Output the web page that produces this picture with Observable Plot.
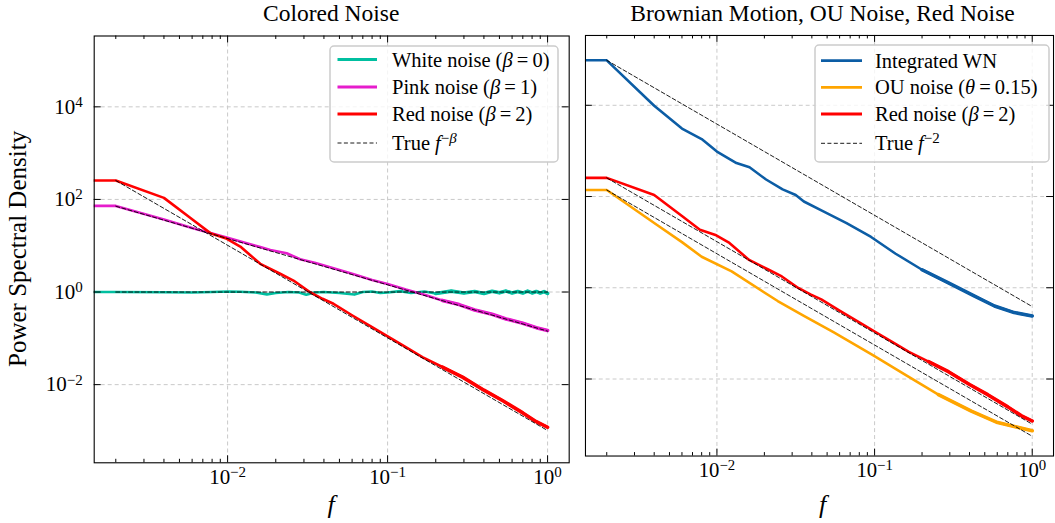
<!DOCTYPE html>
<html><head><meta charset="utf-8">
<script src="https://cdn.jsdelivr.net/npm/d3@7"></script>
<script src="https://cdn.jsdelivr.net/npm/@observablehq/plot@0.6"></script>
<style>
html,body{margin:0;padding:0;background:#fff;}
#fig{position:relative;width:1055px;height:523px;overflow:hidden;background:#fff;font-family:"Liberation Serif","Times New Roman",serif;color:#000;}
#fig > div.panel{position:absolute;top:0;}
#overlay{position:absolute;left:0;top:0;}
</style></head><body>
<div id="fig"></div>
<script>
// ---------------- data ----------------
const panelTitles = ["Colored Noise", "Brownian Motion, OU Noise, Red Noise"];
const yAxisLabel = "Power Spectral Density";
const xAxisLabel = "f";
const xMajorTicks = [0.01, 0.1, 1];
const xMinorTicks = [0.002,0.003,0.004,0.005,0.006,0.007,0.008,0.009,
                     0.02,0.03,0.04,0.05,0.06,0.07,0.08,0.09,
                     0.2,0.3,0.4,0.5,0.6,0.7,0.8,0.9];
const yMajorTicks = [0.01, 1, 100, 10000];

// first entry of each series = f = 0 bin (clipped at the left edge, as in the log plot)
const whiteF   = [0.001,0.002,0.004,0.006,0.008,0.010,0.012,0.015,0.0176,0.020,0.024,0.028,0.031,0.035,0.040,0.050,0.062,0.070,0.080,0.090,0.100,0.120,0.140,0.170,0.200,0.250,0.300,0.350,0.400,0.450,0.500,0.550,0.600,0.650,0.700,0.750,0.800,0.850,0.900,0.950,1.000];
const whitePSD = [1.0,1.0,0.989,0.977,1.0,1.023,1.012,0.977,0.891,0.955,1.0,0.977,0.871,0.977,1.0,0.955,0.881,1.0,1.023,0.955,0.977,1.047,0.955,1.023,0.933,1.047,0.955,1.023,0.933,1.04,0.96,1.047,0.955,1.03,0.95,1.047,0.955,1.03,0.95,1.02,0.933];

const pinkF    = [0.001,0.002,0.004,0.006,0.008,0.010,0.013,0.016,0.0185,0.0234,0.0284,0.035,0.0459,0.060,0.080,0.100,0.130,0.170,0.220,0.280,0.350,0.450,0.550,0.700,0.850,1.000];
const pinkPSD  = [72.5,72.5,37.0,24.3,18.4,14.9,11.5,9.35,8.1,6.9,5.1,4.27,3.27,2.49,1.81,1.49,1.13,0.875,0.66,0.535,0.41,0.33,0.262,0.212,0.17,0.148];

const redF     = [0.001,0.002,0.004,0.006,0.0078,0.0099,0.012,0.016,0.0213,0.0258,0.0328,0.0392,0.0459,0.0603,0.080,0.102,0.130,0.165,0.220,0.294,0.400,0.522,0.700,0.850,1.000];
const redPSD   = [256,256,108,37.3,18.7,14.1,9.6,4.07,2.48,1.77,0.99,0.714,0.557,0.311,0.174,0.106,0.0646,0.0392,0.024,0.0145,0.00759,0.00454,0.00245,0.00158,0.0012];

const bmF      = [0.001,0.002,0.004,0.006,0.008,0.010,0.0133,0.0161,0.0205,0.0261,0.0316,0.0356,0.0463,0.0664,0.095,0.136,0.200,0.294,0.431,0.576,0.768,1.000];
const bmPSD    = [96800,96800,9770,3090,1820,968,541,437,236,143,108,77.8,49.0,26.1,13.0,5.57,2.48,1.28,0.656,0.399,0.286,0.24];

const ouF      = [0.001,0.002,0.004,0.006,0.008,0.0124,0.0243,0.0356,0.0548,0.0975,0.157,0.254,0.411,0.603,1.000];
const ouPSD    = [139,139,26.3,10.0,4.79,2.28,0.512,0.243,0.106,0.0333,0.0123,0.00455,0.00198,0.00111,0.000733];

// reference power laws (end points)
const trueF        = [0.002, 1];
const trueWhite    = [1, 1];
const truePink     = [71.4, 0.143];
const trueRed      = [256, 0.00102];
const trueBM       = [96800, 0.387];
const trueOU       = [139, 0.000556];

const colors = {white:"#00bfa0", pink:"#e61ccc", red:"#ff0000", bm:"#0c5da5", ou:"#ffa500"};

// ---------------- layout ----------------
const H = 523, MT = 35.5, MB = 60.7, FW = 475, FH = H - MT - MB;
const xDomain = [0.001466, 1.3646], yDomain = [2.05e-4, 3.39e5];
const LW = 2.6, FUZZ_F = 0.2, FUZZ_W = 3.6, DASH = "4,2.4";
const rows = (f, v) => f.map((x, i) => ({f: x, v: v[i]}));
const fmt = d => "10^" + Math.round(Math.log10(d));

function panel({ML, series, trues, yLabels}) {
  const tk = {stroke: "#000", strokeWidth: 1};
  const marks = [
    Plot.ruleX(xMajorTicks, {x: d => d, stroke: "#c9c9c9", strokeWidth: 1, strokeDasharray: "4,3"}),
    Plot.ruleY(yMajorTicks, {y: d => d, stroke: "#c9c9c9", strokeWidth: 1, strokeDasharray: "4,3"}),
    ...series.flatMap(s => [
      Plot.line(rows(s.f, s.v), {x: "f", y: "v", stroke: s.color, strokeWidth: LW, clip: true}),
      // denser (noisier) high-frequency part of the periodogram drawn a little heavier
      Plot.line(rows(s.f, s.v).filter(d => d.f >= FUZZ_F), {x: "f", y: "v", stroke: s.color, strokeWidth: FUZZ_W, clip: true})
    ]),
    ...trues.map(t => Plot.line(rows(trueF, t), {x: "f", y: "v", stroke: "#000", strokeWidth: 0.9, strokeDasharray: DASH, clip: true})),
    Plot.frame({stroke: "#000", strokeWidth: 1.1}),
    Plot.tickX(xMajorTicks, {x: d => d, insetTop: FH - 7, ...tk}),
    Plot.tickX(xMajorTicks, {x: d => d, insetBottom: FH - 7, ...tk}),
    Plot.tickX(xMinorTicks, {x: d => d, insetTop: FH - 3.5, ...tk}),
    Plot.tickX(xMinorTicks, {x: d => d, insetBottom: FH - 3.5, ...tk}),
    Plot.tickY(yMajorTicks, {y: d => d, insetRight: FW - 7, ...tk}),
    Plot.tickY(yMajorTicks, {y: d => d, insetLeft: FW - 7, ...tk}),
    Plot.axisX(xMajorTicks, {tickSize: 0, tickPadding: 6, tickFormat: fmt, label: null, fontSize: 21})
  ];
  if (yLabels) marks.push(Plot.axisY(yMajorTicks, {tickSize: 0, tickPadding: 11.5, tickFormat: fmt, label: null, fontSize: 21}));
  return Plot.plot({
    width: ML + FW + 2, height: H,
    marginLeft: ML, marginRight: 2, marginTop: MT, marginBottom: MB,
    x: {type: "log", domain: xDomain},
    y: {type: "log", domain: yDomain, axis: yLabels ? undefined : null},
    style: {fontFamily: '"Liberation Serif", serif', color: "#000", background: "transparent", overflow: "visible"},
    marks
  });
}

const fig = document.getElementById("fig");
const L0 = 93.7, R0 = 585;
const left = panel({ML: L0, yLabels: true,
  series: [{f: whiteF, v: whitePSD, color: colors.white}, {f: pinkF, v: pinkPSD, color: colors.pink}, {f: redF, v: redPSD, color: colors.red}],
  trues: [trueWhite, truePink, trueRed]});
const right = panel({ML: 2, yLabels: false,
  series: [{f: bmF, v: bmPSD, color: colors.bm}, {f: ouF, v: ouPSD, color: colors.ou}, {f: redF, v: redPSD, color: colors.red}],
  trues: [trueBM, trueRed, trueOU]});
const d1 = document.createElement("div"); d1.className = "panel"; d1.style.left = "0px"; d1.appendChild(left);
const d2 = document.createElement("div"); d2.className = "panel"; d2.style.left = (R0 - 2) + "px"; d2.appendChild(right);
fig.appendChild(d1); fig.appendChild(d2);

// superscript tick labels 10^n
const NS = "http://www.w3.org/2000/svg";
fig.querySelectorAll('g[aria-label$="tick label"] text').forEach(t => {
  const m = /^10\^(-?\d+)$/.exec(t.textContent);
  if (!m) return;
  t.textContent = "";
  const a = document.createElementNS(NS, "tspan"); a.textContent = "10"; t.appendChild(a);
  const b = document.createElementNS(NS, "tspan"); b.textContent = m[1].replace("-", "\u2212");
  b.setAttribute("dy", "-0.45em"); b.setAttribute("font-size", "15"); t.appendChild(b);
});

// ---------------- overlay: titles, axis labels, legends ----------------
const ov = d3.select(fig).append("svg").attr("id", "overlay").attr("width", 1055).attr("height", 523)
  .style("font-family", '"Liberation Serif", serif');
ov.append("text").attr("x", L0 + FW / 2).attr("y", 20.5).attr("text-anchor", "middle").attr("font-size", 23.5).text(panelTitles[0]);
ov.append("text").attr("x", R0 + FW / 2).attr("y", 20.5).attr("text-anchor", "middle").attr("font-size", 23.5).text(panelTitles[1]);
ov.append("text").attr("transform", `translate(26,${MT + FH / 2}) rotate(-90)`).attr("text-anchor", "middle").attr("font-size", 25).text(yAxisLabel);
ov.append("text").attr("x", L0 + FW / 2).attr("y", 513).attr("text-anchor", "middle").attr("font-size", 26).attr("font-style", "italic").text(xAxisLabel);
ov.append("text").attr("x", R0 + FW / 2).attr("y", 513).attr("text-anchor", "middle").attr("font-size", 26).attr("font-style", "italic").text(xAxisLabel);

// legend entries: parts = [text, italic?, superscript?]
const legendLeft = [
  {color: colors.white, parts: [["White noise ("], ["β", 1], ["\u2009=\u20090)"]]},
  {color: colors.pink,  parts: [["Pink noise ("], ["β", 1], ["\u2009=\u20091)"]]},
  {color: colors.red,   parts: [["Red noise ("], ["β", 1], ["\u2009=\u20092)"]]},
  {dashed: true,        parts: [["True "], ["f", 1], ["\u2212", 0, 1], ["β", 1, 1]]}
];
const legendRight = [
  {color: colors.bm,  parts: [["Integrated WN"]]},
  {color: colors.ou,  parts: [["OU noise ("], ["θ", 1], ["\u2009=\u20090.15)"]]},
  {color: colors.red, parts: [["Red noise ("], ["β", 1], ["\u2009=\u20092)"]]},
  {dashed: true,      parts: [["True "], ["f", 1], ["\u22122", 0, 1]]}
];
function legend(items, box, lx0, lx1, tx, rowsY) {
  const g = ov.append("g");
  g.append("rect").attr("x", box[0]).attr("y", box[1]).attr("width", box[2]).attr("height", box[3]).attr("rx", 4)
    .attr("fill", "#fff").attr("fill-opacity", 0.8).attr("stroke", "#cccccc").attr("stroke-width", 1.5);
  items.forEach((it, i) => {
    const y = rowsY[i];
    g.append("line").attr("x1", lx0).attr("x2", lx1).attr("y1", y).attr("y2", y)
      .attr("stroke", it.dashed ? "#000" : it.color).attr("stroke-width", it.dashed ? 0.9 : 2.8)
      .attr("stroke-dasharray", it.dashed ? DASH : null);
    const t = g.append("text").attr("x", tx).attr("y", y + 7).attr("font-size", 20.5);
    let sup = false;
    it.parts.forEach(([s, ital, sp]) => {
      const ts = t.append("tspan").text(s);
      if (ital) ts.attr("font-style", "italic");
      if (sp && !sup) { ts.attr("dy", "-0.5em"); sup = true; }
      if (sp) ts.attr("font-size", 15);
    });
  });
}
legend(legendLeft, [330, 46, 228, 116], 337.5, 377, 392, [59.5, 87, 114, 143]);
legend(legendRight, [815, 45, 234, 117], 821, 862, 875, [60.7, 87.3, 114, 143.3]);
</script>
</body></html>
